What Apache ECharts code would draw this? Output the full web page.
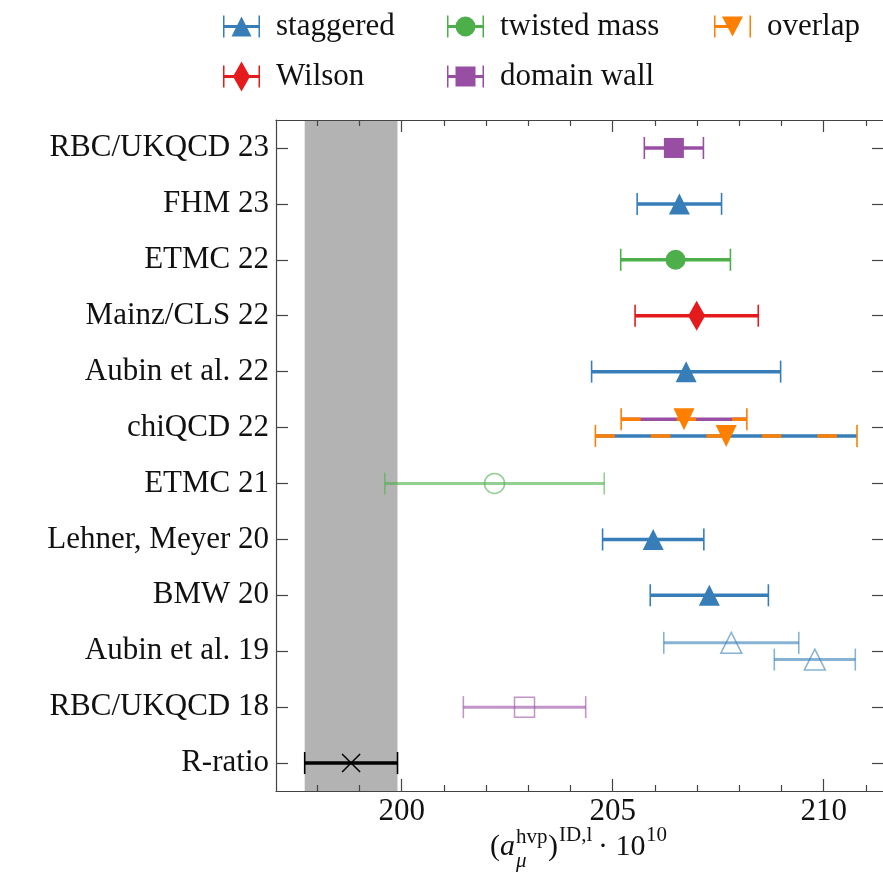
<!DOCTYPE html>
<html>
<head>
<meta charset="utf-8">
<script src="https://cdn.jsdelivr.net/npm/echarts@6/dist/echarts.min.js"></script>
<style>
  html, body { margin: 0; padding: 0; background: #fff; }
  #chart { width: 883px; height: 874px; }
</style>
</head>
<body>
<div id="chart"></div>
<script>
// rows of the plot, top to bottom
const labels = ['RBC/UKQCD 23', 'FHM 23', 'ETMC 22', 'Mainz/CLS 22', 'Aubin et al. 22', 'chiQCD 22',
  'ETMC 21', 'Lehner, Meyer 20', 'BMW 20', 'Aubin et al. 19', 'RBC/UKQCD 18', 'R-ratio']

// [label, value, error]  (overlap rows also carry the sea-quark action)
const staggered = [
  ['FHM 23', 206.58, 1.00],
  ['Aubin et al. 22', 206.74, 2.24],
  ['Lehner, Meyer 20', 205.96, 1.20],
  ['BMW 20', 207.29, 1.40],
  ['Aubin et al. 19', 207.81, 1.60],
  ['Aubin et al. 19', 209.79, 0.96]
]
const twistedMass = [
  ['ETMC 22', 206.49, 1.30],
  ['ETMC 21', 202.20, 2.60]
]
const overlap = [
  ['chiQCD 22', 206.69, 1.49, 'domain wall'],
  ['chiQCD 22', 207.69, 3.10, 'staggered']
]
const wilson = [
  ['Mainz/CLS 22', 206.99, 1.46]
]
const domainWall = [
  ['RBC/UKQCD 23', 206.45, 0.70],
  ['RBC/UKQCD 18', 202.91, 1.45]
]
const rRatio = [
  ['R-ratio', 198.80, 1.10]
]
// results drawn faded with open markers
const olderResults = ['ETMC 21', 'Aubin et al. 19', 'RBC/UKQCD 18']

const xMajorTicks = [200, 205, 210]
const xMinorTicks = [198, 199, 201, 202, 203, 204, 206, 207, 208, 209, 211]

const FONT = 'Liberation Serif'
const AXIS_COLOR = '#444'
const colors = {
  'staggered': '#377eb8',
  'twisted mass': '#4daf4a',
  'overlap': '#ff7f00',
  'Wilson': '#e41a1c',
  'domain wall': '#984ea3',
  'R-ratio': '#000'
}

// vertical offset when a row holds several results
const allRows = [].concat(staggered, twistedMass, overlap, wilson, domainWall, rRatio)
const rowCount = {}
allRows.forEach(r => { rowCount[r[0]] = (rowCount[r[0]] || 0) + 1 })
const rowSeen = {}
const rowPos = new Map()
allRows.forEach(r => {
  const k = rowSeen[r[0]] || 0
  rowSeen[r[0]] = k + 1
  rowPos.set(r, labels.indexOf(r[0]) + (k - (rowCount[r[0]] - 1) / 2) * 0.3)
})

function seg(x1, y1, x2, y2, color, width, dash, opacity) {
  return {
    type: 'line',
    shape: { x1, y1, x2, y2 },
    style: { stroke: color, lineWidth: width, lineDash: dash || null, opacity: opacity }
  }
}

function marker(kind, cx, cy, color, open, opacity) {
  const style = open
    ? { fill: 'none', stroke: color, lineWidth: 1.5, opacity }
    : { fill: color, opacity }
  if (kind === 'triangle') {
    return { type: 'polygon', shape: { points: [[cx, cy - 10.5], [cx + 10.5, cy + 10.5], [cx - 10.5, cy + 10.5]] }, style }
  }
  if (kind === 'down') {
    return { type: 'polygon', shape: { points: [[cx - 10.5, cy - 11], [cx + 10.5, cy - 11], [cx, cy + 11]] }, style }
  }
  if (kind === 'circle') {
    return { type: 'circle', shape: { cx, cy, r: 10 }, style }
  }
  if (kind === 'square') {
    return { type: 'rect', shape: { x: cx - 10, y: cy - 10, width: 20, height: 20 }, style }
  }
  if (kind === 'diamond') {
    return { type: 'polygon', shape: { points: [[cx, cy - 15], [cx + 8.5, cy], [cx, cy + 15], [cx - 8.5, cy]] }, style }
  }
  // cross
  return {
    type: 'group', children: [
      seg(cx - 9, cy - 9, cx + 9, cy + 9, color, 1.5),
      seg(cx - 9, cy + 9, cx + 9, cy - 9, color, 1.5)
    ]
  }
}

function errorBars(name, rows, kind) {
  const color = colors[name]
  return {
    type: 'custom',
    name: name,
    xAxisIndex: 0,
    yAxisIndex: 2,
    z: 2,
    itemStyle: { color: color },
    encode: { x: 0, y: 1 },
    data: rows.map(r => [r[1], rowPos.get(r), r[2]]),
    renderItem(params, api) {
      const row = rows[params.dataIndex]
      const v = api.value(0), y = api.value(1), e = api.value(2)
      const mid = api.coord([v, y])
      const lo = api.coord([v - e, y])
      const hi = api.coord([v + e, y])
      const old = olderResults.indexOf(row[0]) >= 0
      const op = old ? 0.6 : 1
      const bw = old ? 3 : 3.5
      const kids = []
      if (row[3]) {
        kids.push(seg(lo[0], lo[1], hi[0], hi[1], colors[row[3]], bw, null, op))
        kids.push(seg(lo[0], lo[1], hi[0], hi[1], color, bw, [19.5, 36], op))
      } else {
        kids.push(seg(lo[0], lo[1], hi[0], hi[1], color, bw, null, op))
      }
      kids.push(seg(lo[0], lo[1] - 11, lo[0], lo[1] + 11, color, 1.6, null, op))
      kids.push(seg(hi[0], hi[1] - 11, hi[0], hi[1] + 11, color, 1.6, null, op))
      kids.push(marker(kind, mid[0], mid[1], color, old, op))
      return { type: 'group', children: kids }
    }
  }
}

// legend icons: errorbar with caps plus the marker (37 wide)
const bar = 'M0 9.5H37V12.5H0Z'
const caps = 'M0 0H1.5V22H0ZM35.5 0H37V22H35.5Z'
const icons = {
  'staggered': 'path://' + bar + caps + 'M8.5 21L18.5 1L28.5 21Z',
  'twisted mass': 'path://' + bar + caps + 'M8.5 11A10 10 0 1 1 28.5 11A10 10 0 1 1 8.5 11Z',
  'overlap': 'path://M0 9.5H20V12.5H0Z' + caps + 'M8 1L29 1L18.5 21Z',
  'Wilson': 'path://M0 13.5H37V16.5H0ZM0 4H1.5V26H0ZM35.5 4H37V26H35.5ZM18.5 0L27 15L18.5 30L10 15Z',
  'domain wall': 'path://' + bar + caps + 'M8.5 1H28.5V21H8.5Z'
}
function legendItem(name, left, top, h) {
  return {
    left: left, top: top, padding: 0, itemGap: 0,
    itemWidth: 37, itemHeight: h,
    itemStyle: { borderWidth: 0 },
    data: [{ name: name, icon: icons[name] }],
    textStyle: { fontFamily: FONT, fontSize: 31, color: '#111', padding: [0, 0, 0, 11] }
  }
}

const xRange = { min: 197.02, max: 211.43 }
function xAxisPart(pos, ticks, len, withLine, withLabel) {
  return {
    type: 'value', position: pos, min: xRange.min, max: xRange.max, z: 3,
    axisLine: { show: withLine, onZero: false, lineStyle: { color: AXIS_COLOR, width: 1.2 } },
    axisTick: { show: true, inside: true, length: len, customValues: ticks, lineStyle: { color: AXIS_COLOR, width: 1.2 } },
    axisLabel: withLabel
      ? { show: true, customValues: ticks, fontFamily: FONT, fontSize: 31, color: '#111', margin: 5 }
      : { show: false },
    splitLine: { show: false }
  }
}
function yCategory(pos, withLabel) {
  return {
    type: 'category', data: labels, inverse: true, position: pos, z: 3,
    axisLine: { show: true, onZero: false, lineStyle: { color: AXIS_COLOR, width: 1.2 } },
    axisTick: { show: true, inside: true, alignWithLabel: true, length: 12, lineStyle: { color: AXIS_COLOR, width: 1.2 } },
    axisLabel: withLabel
      ? { show: true, interval: 0, fontFamily: FONT, fontSize: 31, color: '#111', margin: 7 }
      : { show: false },
    splitLine: { show: false }
  }
}

function nameText(text, x, y, size, italic) {
  return {
    type: 'text', left: x, top: y,
    style: { text: text, fontFamily: FONT, fontSize: size, fontStyle: italic ? 'italic' : 'normal', fill: '#111' }
  }
}

const chart = echarts.init(document.getElementById('chart'))
chart.setOption({
  animation: false,
  backgroundColor: '#fff',
  grid: { left: 276, top: 120, width: 608, height: 671, containLabel: false, outerBoundsMode: 'none' },
  legend: [
    legendItem('staggered', 223, 11, 22),
    legendItem('twisted mass', 447, 11, 22),
    legendItem('overlap', 714, 11, 22),
    legendItem('Wilson', 223, 61, 30),
    legendItem('domain wall', 447, 61, 22)
  ],
  xAxis: [
    xAxisPart('bottom', xMajorTicks, 12, true, true),
    xAxisPart('bottom', xMinorTicks, 6, false, false),
    xAxisPart('top', xMajorTicks, 12, true, false),
    xAxisPart('top', xMinorTicks, 6, false, false)
  ],
  yAxis: [
    yCategory('left', true),
    yCategory('right', false),
    { type: 'value', min: -0.5, max: 11.5, inverse: true, show: false }
  ],
  graphic: [
    nameText('(', 490, 832, 30, false),
    nameText('a', 500, 832, 30, true),
    nameText('hvp', 516, 827, 21, false),
    nameText('μ', 516, 851, 21, true),
    nameText(')', 548, 832, 30, false),
    nameText('ID,l', 559, 825, 21, false),
    nameText('· 10', 598, 832, 30, false),
    nameText('10', 646, 825, 21, false)
  ],
  series: [
    Object.assign(errorBars('R-ratio', rRatio, 'cross'), {
      markArea: {
        silent: true,
        itemStyle: { color: '#b3b3b3', opacity: 1 },
        label: { show: false },
        data: [[{ xAxis: rRatio[0][1] - rRatio[0][2] }, { xAxis: rRatio[0][1] + rRatio[0][2] }]]
      }
    }),
    errorBars('staggered', staggered, 'triangle'),
    errorBars('twisted mass', twistedMass, 'circle'),
    errorBars('overlap', overlap, 'down'),
    errorBars('Wilson', wilson, 'diamond'),
    errorBars('domain wall', domainWall, 'square')
  ]
})
</script>
</body>
</html>
